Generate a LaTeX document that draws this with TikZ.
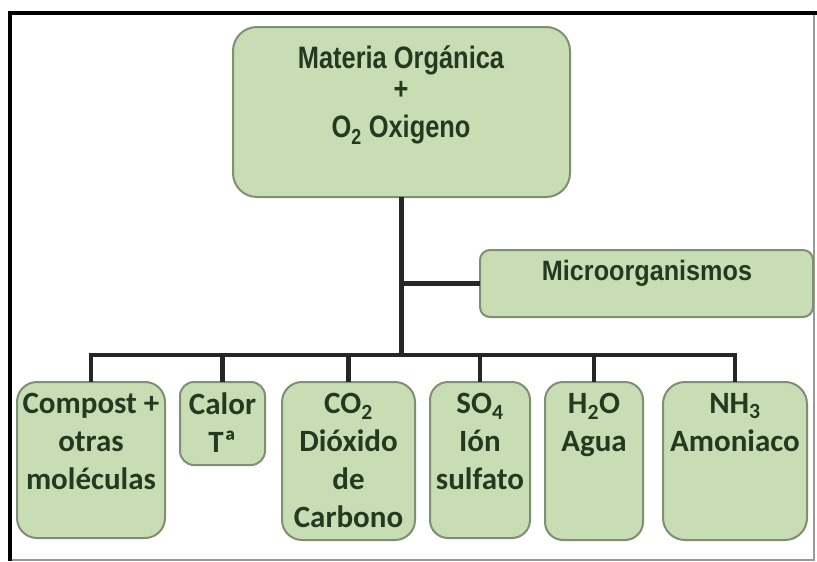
\documentclass[tikz,border=0pt]{standalone}
\usepackage{fontspec}
\setmainfont{Carlito}
\newfontfamily\narrowfont[FakeStretch=0.82]{Liberation Sans}
\newfontfamily\headfont[FakeStretch=0.9]{Liberation Sans}
\definecolor{boxfill}{HTML}{C9DDB5}
\definecolor{boxline}{HTML}{7E8F74}
\definecolor{txt}{HTML}{243A20}
\definecolor{framegray}{HTML}{9A9A9A}
\tikzset{
  gbox/.style={draw=boxline, fill=boxfill, line width=2pt, inner sep=0pt, outer sep=0pt, rectangle},
  conn/.style={draw=black!85, line width=4.5pt},
  toptext/.style={text=txt, font=\narrowfont\bfseries\fontsize{31}{35}\selectfont, inner sep=0pt},
  microtext/.style={text=txt, font=\headfont\bfseries\fontsize{28}{32}\selectfont, inner sep=0pt},
  lowtext/.style={text=txt, font=\bfseries\fontsize{31}{38}\selectfont, align=center, inner sep=0pt, anchor=north},
}
\begin{document}
\begin{tikzpicture}[x=1pt,y=-1pt]
\useasboundingbox (0,0) rectangle (817,562);
\fill[white] (0,0) rectangle (817,562);
% frame
\draw[framegray, line width=1.5pt] (814,13) -- (814,560) -- (10,560);
\draw[black, line width=3.5pt] (10,561) -- (10,13) -- (817,13);

% top box
\node[gbox, rounded corners=24pt, minimum width=337pt, minimum height=170pt] (top) at (401.5,112) {};
\node[toptext] (t1) at (401,60) {Materia Orgánica};
\node[toptext] (t2) at (401,90) {+};
\node[toptext] (t3) at (401,130) {O\textsubscript{2} Oxigeno};

% micro box
\node[gbox, rounded corners=10pt, minimum width=333pt, minimum height=67pt] (micro) at (646.5,283.5) {};
\node[microtext] (mt) at (647,273) {Microorganismos};

% bottom boxes
\node[gbox, rounded corners=20pt, minimum width=148pt, minimum height=156pt] (k1) at (91,460) {};
\node[gbox, rounded corners=14pt, minimum width=85pt, minimum height=83pt] (k2) at (222.5,423.5) {};
\node[gbox, rounded corners=20pt, minimum width=133pt, minimum height=158pt] (k3) at (348.5,461) {};
\node[gbox, rounded corners=18pt, minimum width=100pt, minimum height=156pt] (k4) at (480,460) {};
\node[gbox, rounded corners=18pt, minimum width=98pt, minimum height=158pt] (k5) at (594,461) {};
\node[gbox, rounded corners=22pt, minimum width=144pt, minimum height=158pt] (k6) at (735,461) {};

\node[lowtext] (b1) at (91,393) {Compost +\\otras\\moléculas};
\node[lowtext] (b2) at (222.5,393) {Calor\\Tª};
\node[lowtext] (b3) at (348.5,393) {CO\textsubscript{2}\\Dióxido\\de\\Carbono};
\node[lowtext] (b4) at (480,393) {SO\textsubscript{4}\\Ión\\sulfato};
\node[lowtext] (b5) at (594,393) {H\textsubscript{2}O\\Agua};
\node[lowtext] (b6) at (735,393) {NH\textsubscript{3}\\Amoniaco};

% connectors
\coordinate (busM) at (top.south |- 0,355);
\coordinate (midj) at (top.south |- micro.west);
\draw[conn] (top.south) -- (busM);
\draw[conn] (midj) -- (micro.west);
\draw[conn] (k1.north) -- (k1.north |- busM) -- (k6.north |- busM) -- (k6.north);
\foreach \k in {k2,k3,k4,k5} {
  \draw[conn] (\k.north |- busM) -- (\k.north);
}
\end{tikzpicture}
\end{document}
